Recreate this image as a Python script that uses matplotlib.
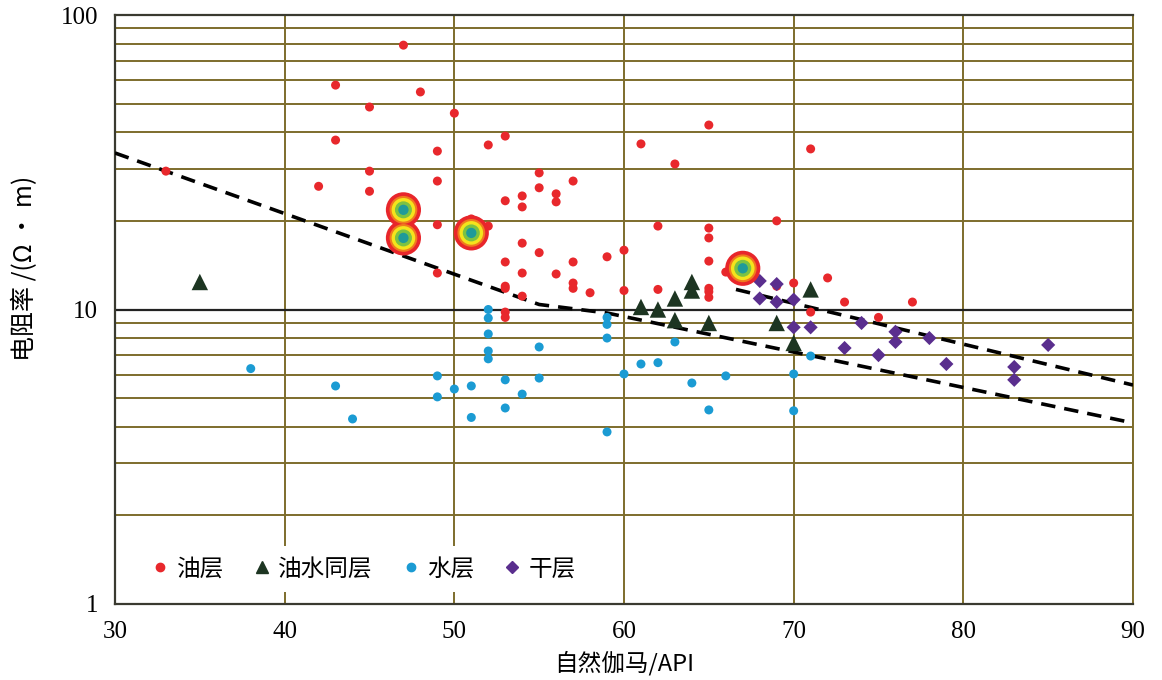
import matplotlib
matplotlib.use('Agg')
import matplotlib.pyplot as plt
from matplotlib.lines import Line2D
from matplotlib.ticker import FixedLocator, NullFormatter

# ---------------- data ----------------
oil_x = [33, 42, 43, 43, 45, 45, 45, 47, 48, 49, 49, 49, 49, 50, 51, 52, 52,
         53, 53, 53, 53, 53, 53, 53, 54, 54, 54, 54, 54, 55, 55, 55, 56, 56, 56,
         57, 57, 57, 57, 58, 59, 60, 60, 61, 62, 62, 63, 65, 65, 65, 65, 65, 65,
         65, 66, 69, 69, 70, 71, 71, 72, 73, 75, 77]
oil_y = [29.5, 26.2, 57.8, 37.6, 48.7, 29.5, 25.2, 79, 54.8, 34.5, 27.3, 19.4, 13.3,
         46.4, 20.3, 36.2, 19.2, 38.8, 23.4, 14.5, 12.0, 11.8, 9.8, 9.4, 24.3, 22.3,
         16.8, 13.3, 11.1, 29.1, 25.9, 15.6, 24.7, 23.2, 13.2, 27.3, 14.5, 12.3, 11.8,
         11.4, 15.1, 15.9, 11.6, 36.5, 19.2, 11.7, 31.2, 42.3, 18.9, 17.5, 14.6, 11.8,
         11.5, 11.0, 13.4, 20.0, 12.0, 12.3, 35.1, 9.8, 12.8, 10.6, 9.4, 10.6]

mix_x = [35, 61, 62, 63, 63, 64, 64, 65, 69, 70, 71]
mix_y = [12.4, 10.2, 10.0, 10.9, 9.2, 12.4, 11.6, 9.0, 9.0, 7.7, 11.7]

water_x = [38, 43, 44, 49, 49, 50, 51, 51, 52, 52, 52, 52, 52, 53, 53, 54, 55, 55,
           59, 59, 59, 59, 60, 61, 62, 63, 64, 65, 66, 70, 70, 71]
water_y = [6.3, 5.5, 4.25, 5.95, 5.05, 5.37, 5.5, 4.3, 10.0, 9.35, 8.26, 7.23, 6.8,
           5.77, 4.63, 5.16, 7.46, 5.85, 9.4, 8.9, 8.0, 3.84, 6.04, 6.53, 6.6, 7.76,
           5.63, 4.56, 5.95, 6.04, 4.53, 6.95]

dry_x = [68, 68, 69, 69, 70, 70, 71, 73, 74, 75, 76, 76, 78, 79, 83, 83, 85]
dry_y = [12.5, 10.9, 12.2, 10.6, 10.8, 8.7, 8.7, 7.4, 9.0, 7.0, 8.4, 7.76, 8.0,
         6.53, 6.38, 5.77, 7.58]

highlight_x = [47, 47, 51, 67]
highlight_y = [21.8, 17.5, 18.2, 13.8]

lower_line_x = [30, 55, 59, 90]
lower_line_y = [34.0, 10.4, 9.73, 4.12]
upper_line_x = [66.6, 90]
upper_line_y = [11.7, 5.54]

legend_labels = ['油层', '油水同层', '水层', '干层']
x_ticks = [30, 40, 50, 60, 70, 80, 90]
y_ticks = [1, 10, 100]
y_tick_labels = ['1', '10', '100']

# ---------------- style ----------------
RED = '#e8282c'
GREEN = '#1d3522'
BLUE = '#1b9bd3'
PURPLE = '#5a2e8e'
OLIVE = '#7d6c2c'
SERIF = 'Liberation Serif'
CJK = ['Noto Sans CJK SC', 'DejaVu Sans']

fig = plt.figure(figsize=(11.62, 6.8), dpi=100)
ax = fig.add_axes([115 / 1162, 76 / 680, 1018 / 1162, 589 / 680])
ax.set_yscale('log')
ax.set_xlim(30, 90)
ax.set_ylim(1, 100)

ax.xaxis.set_major_locator(FixedLocator(x_ticks))
ax.yaxis.set_major_locator(FixedLocator(y_ticks))
ax.yaxis.set_minor_locator(FixedLocator([m * d for d in (1, 10) for m in range(2, 10)]))
ax.yaxis.set_minor_formatter(NullFormatter())
ax.set_yticklabels(y_tick_labels)
ax.set_xticklabels([str(v) for v in x_ticks])
for lab in ax.get_xticklabels() + ax.get_yticklabels():
    lab.set_fontfamily(SERIF)
    lab.set_fontsize(18)
ax.tick_params(axis='both', which='both', length=0)
ax.tick_params(axis='x', pad=12)
ax.tick_params(axis='y', pad=12)

ax.grid(axis='x', which='major', color=OLIVE, lw=1.4)
ax.grid(axis='y', which='minor', color=OLIVE, lw=1.4)
ax.axhline(10, color='#222222', lw=1.6, zorder=1.5)
ax.set_axisbelow(True)

for s in ('left', 'bottom', 'top'):
    ax.spines[s].set_color('#3a3a30')
    ax.spines[s].set_linewidth(1.6)
ax.spines['right'].set_color(OLIVE)
ax.spines['right'].set_linewidth(1.4)

# dashed boundary lines
ax.plot(lower_line_x, lower_line_y, ls=(0, (4, 2.5)), color='black', lw=2.6, zorder=3)
ax.plot(upper_line_x, upper_line_y, ls=(0, (4, 2.5)), color='black', lw=2.6, zorder=3)

# scatter series
ax.scatter(oil_x, oil_y, s=42, color=RED, edgecolors='none', zorder=4)
ax.scatter(mix_x, mix_y, s=140, marker='^', color=GREEN, edgecolors='none', zorder=5)
ax.scatter(water_x, water_y, s=42, color=BLUE, edgecolors='none', zorder=4)
ax.scatter(dry_x, dry_y, s=52, marker='D', color=PURPLE, edgecolors='none', zorder=5)

# highlighted points (concentric rings)
for size, col in [(640, '#e8262b'), (400, '#f07a1e'), (290, '#f4e41c'),
                  (150, '#7cc242'), (55, '#1f9a9a')]:
    ax.scatter(highlight_x, highlight_y, s=size, color=col, edgecolors='none', zorder=6)

# legend
handles = [
    Line2D([], [], ls='none', marker='o', ms=6, color=RED),
    Line2D([], [], ls='none', marker='^', ms=8, color=GREEN),
    Line2D([], [], ls='none', marker='o', ms=6, color=BLUE),
    Line2D([], [], ls='none', marker='D', ms=6, color=PURPLE),
]
leg = ax.legend(handles, legend_labels, loc='lower left', ncol=4, frameon=True,
                framealpha=1, facecolor='white', edgecolor='none',
                prop={'family': CJK, 'size': 17}, handlelength=0.8,
                handletextpad=0.3, columnspacing=1.2, borderpad=0.5,
                bbox_to_anchor=(0.012, 0.0))
leg.get_frame().set_linewidth(0)
leg.set_zorder(7)

ax.set_xlabel('自然伽马/API', family=CJK, fontsize=17, labelpad=6)
ax.set_ylabel('电阻率 /(Ω · m)', family=CJK, fontsize=18)
ax.yaxis.set_label_coords(-0.076, 0.57)

fig.savefig('out.png', dpi=100, facecolor='white')
